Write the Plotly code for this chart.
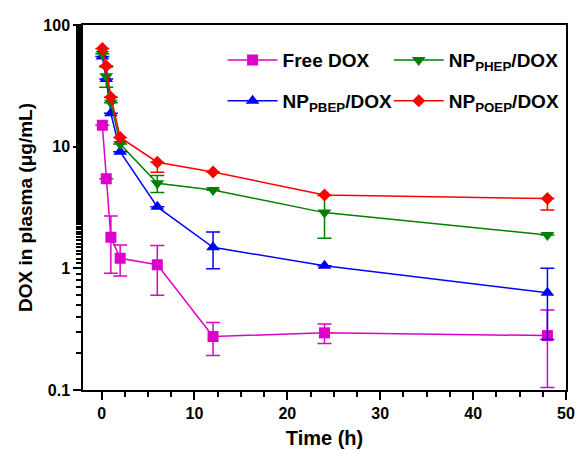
import plotly.graph_objects as go

# ---- data ----
time_h = [0.083, 0.5, 1, 2, 6, 12, 24, 48]

free_dox = [15.0, 5.45, 1.8, 1.21, 1.07, 0.275, 0.295, 0.28]
free_dox_err = [0, 0, 0.89, 0.345, 0.47, 0.083, 0.054, 0.175]

np_pbep = [55, 36, 18.8, 9.1, 3.2, 1.49, 1.05, 0.63]
np_pbep_err = [0, 0, 0, 0, 0, 0.5, 0, 0.37]

np_phep = [58, 38, 23, 10.5, 5.0, 4.4, 2.87, 1.88]
np_phep_err = [0, 7.2, 0, 0, 0.8, 0, 1.1, 0]

np_poep = [64, 46, 25.5, 11.9, 7.45, 6.2, 4.0, 3.75]
np_poep_err_minus = [0, 0, 0, 0, 1.3, 0, 0, 0.74]

y_tickvals = [0.1, 1, 10, 100]
y_ticktext = ["0.1", "1", "10", "100"]

FONT = "Arial, Liberation Sans, sans-serif"
MAG = "#DC00C8"
BLUE = "#0000FF"
GREEN = "#008000"
RED = "#FF0000"

fig = go.Figure()


def add(name, y, err, color, symbol, size, legend, errminus=None):
    if errminus is None:
        ey = dict(type="data", array=err, visible=True, color=color,
                  thickness=1.5, width=7)
    else:
        ey = dict(type="data", symmetric=False, array=[0] * len(errminus),
                  arrayminus=errminus, visible=True, color=color,
                  thickness=1.5, width=7)
    fig.add_trace(go.Scatter(
        x=time_h, y=y, name=name, mode="lines+markers",
        line=dict(color=color, width=1.5),
        marker=dict(symbol=symbol, size=size, color=color),
        error_y=ey, legend=legend, showlegend=True,
    ))


add("Free DOX", free_dox, free_dox_err, MAG, "square", 11, "legend")
add("NP<sub>PBEP</sub>/DOX", np_pbep, np_pbep_err, BLUE, "triangle-up", 12, "legend3")
add("NP<sub>PHEP</sub>/DOX", np_phep, np_phep_err, GREEN, "triangle-down", 12, "legend2")
add("NP<sub>POEP</sub>/DOX", np_poep, None, RED, "diamond", 10, "legend4",
    errminus=np_poep_err_minus)

leg_common = dict(font=dict(family=FONT, size=19, color="black", weight="bold"),
                  bgcolor="rgba(0,0,0,0)", itemwidth=50,
                  xanchor="left", yanchor="middle", visible=True)

fig.update_layout(
    width=576, height=451,
    showlegend=True,
    margin=dict(l=83, r=10, t=25, b=61, autoexpand=False),
    paper_bgcolor="white", plot_bgcolor="white",
    font=dict(family=FONT, color="black"),
    legend=dict(x=0.289, y=0.904, **leg_common),
    legend2=dict(x=0.633, y=0.904, **leg_common),
    legend3=dict(x=0.289, y=0.792, **leg_common),
    legend4=dict(x=0.633, y=0.792, **leg_common),
    xaxis=dict(
        range=[-2, 50], dtick=10, tick0=0, automargin=False,
        ticks="outside", ticklen=8, tickwidth=1.5, tickcolor="black",
        showline=True, linecolor="black", linewidth=1.5, mirror=True,
        showgrid=False, zeroline=False,
        tickfont=dict(family=FONT, size=16, weight="bold"),
        title=dict(text="Time (h)", font=dict(family=FONT, size=20, weight="bold"),
                   standoff=10),
        minor=dict(dtick=2.5, ticks="outside", ticklen=5, tickwidth=1.5,
                   tickcolor="black", showgrid=False),
    ),
    yaxis=dict(
        type="log", range=[-1, 2], automargin=False,
        tickvals=y_tickvals, ticktext=y_ticktext,
        ticks="outside", ticklen=8, tickwidth=1.5, tickcolor="black",
        showline=True, linecolor="black", linewidth=1.5, mirror=True,
        showgrid=False, zeroline=False,
        tickfont=dict(family=FONT, size=16, weight="bold"),
        title=dict(text="DOX in plasma (μg/mL)",
                   font=dict(family=FONT, size=19, weight="bold"), standoff=6),
        minor=dict(ticks="outside", ticklen=5, tickwidth=1.5, tickcolor="black",
                   showgrid=False),
    ),
)

fig.write_html("out.html",
               config={"displayModeBar": False},
               post_script="document.body.style.margin='0px';"
                           "document.body.style.overflow='hidden';")
